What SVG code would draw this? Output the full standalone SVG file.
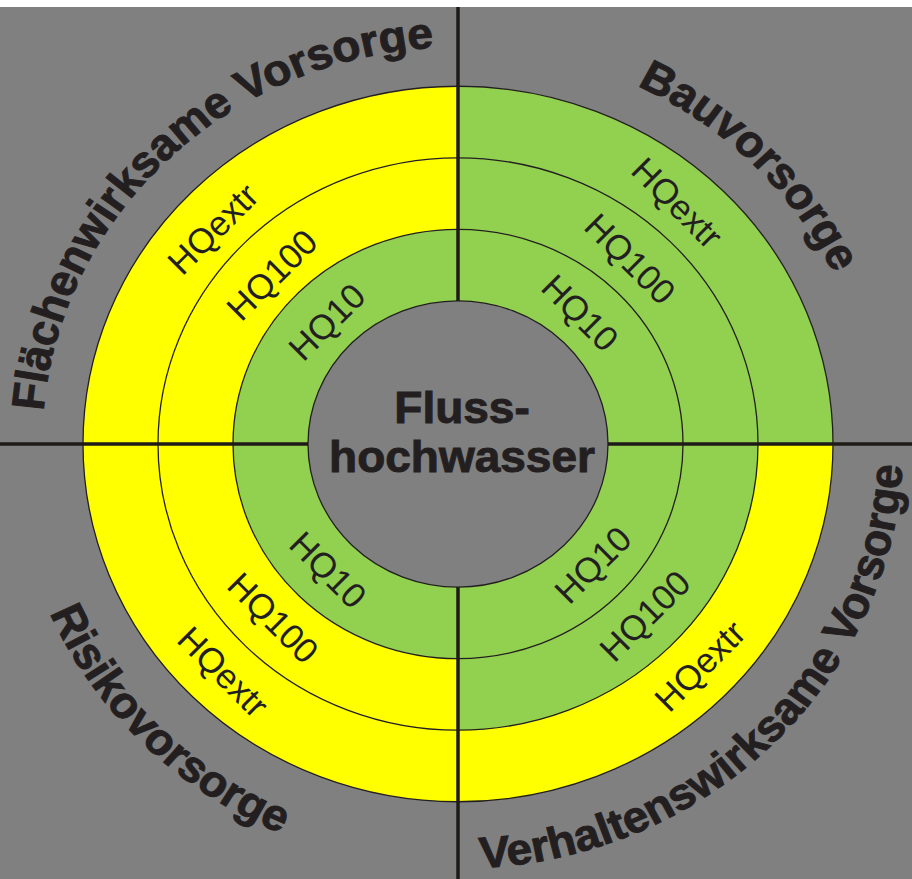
<svg xmlns="http://www.w3.org/2000/svg" width="912" height="879" viewBox="0 0 912 879">
  <style>
    .ring { fill: none; stroke: #231f20; stroke-width: 1.3; }
    .axis { stroke: #1e1a17; stroke-width: 3.5; fill: none; }
    .lbl { font-family: "Liberation Sans", Arial, sans-serif; font-weight: bold; font-size: 46px; fill: #231f20; stroke: #231f20; stroke-width: 1; }
    .hq { font-family: "Liberation Sans", Arial, sans-serif; font-size: 35px; fill: #231f20; text-anchor: middle; }
    .ctr { font-family: "Liberation Sans", Arial, sans-serif; font-weight: bold; font-size: 46px; fill: #231f20; stroke: #231f20; stroke-width: 1; text-anchor: middle; }
  </style>
  <defs>
    <path id="arcTL" d="M -416 0 A 416 416 0 0 1 0 -416"/>
    <path id="arcTR" d="M 0 -416 A 416 416 0 0 1 416 0"/>
    <path id="arcBL" d="M -445 0 A 445 445 0 0 0 0 445"/>
    <path id="arcBR" d="M 0 445 A 445 445 0 0 0 445 0"/>
  </defs>
  <rect x="0" y="0" width="912" height="879" fill="#ffffff"/>
  <rect x="0" y="7" width="912" height="872" fill="#808080"/>

  <g transform="translate(458 444) scale(1 0.954)">
    <g id="rings">
      <circle r="375" fill="#ffff00"/>
      <path d="M0 0 L0 -375 A375 375 0 0 1 375 0 Z" fill="#92d050"/>
      <path d="M0 0 L300 0 A300 300 0 0 1 0 300 Z" fill="#92d050"/>
      <circle r="225" fill="#92d050"/>
      <circle r="150" fill="#808080"/>
      <circle class="ring" r="375" vector-effect="non-scaling-stroke"/>
      <circle class="ring" r="300" vector-effect="non-scaling-stroke"/>
      <circle class="ring" r="225" vector-effect="non-scaling-stroke"/>
      <circle class="ring" r="150" vector-effect="non-scaling-stroke"/>
    </g>
    <g id="center">
      <text class="ctr" x="4" y="-22">Fluss-</text>
      <text class="ctr" x="4" y="29">hochwasser</text>
    </g>
    <g id="label-flaechenwirksame">
      <text class="lbl"><textPath href="#arcTL" startOffset="50.8%" text-anchor="middle">Flächenwirksame Vorsorge</textPath></text>
    </g>
    <g id="label-bauvorsorge">
      <text class="lbl"><textPath href="#arcTR" startOffset="50%" text-anchor="middle">Bauvorsorge</textPath></text>
    </g>
    <g id="label-risikovorsorge">
      <text class="lbl"><textPath href="#arcBL" startOffset="50%" text-anchor="middle">Risikovorsorge</textPath></text>
    </g>
    <g id="label-verhaltenswirksame">
      <text class="lbl"><textPath href="#arcBR" startOffset="50%" text-anchor="middle">Verhaltenswirksame Vorsorge</textPath></text>
    </g>
  </g>

  <g id="connectors">
    <line class="axis" x1="458" y1="7" x2="458" y2="301"/>
    <line class="axis" x1="458" y1="587" x2="458" y2="879"/>
    <line class="axis" x1="0" y1="444" x2="308" y2="444"/>
    <line class="axis" x1="608" y1="444" x2="912" y2="444"/>
  </g>

  <g id="hq-top-left">
    <text class="hq" transform="translate(213 229) rotate(-45)" y="12">HQextr</text>
    <text class="hq" transform="translate(272 275) rotate(-45)" y="12">HQ100</text>
    <text class="hq" transform="translate(327 322) rotate(-45)" y="12">HQ10</text>
  </g>
  <g id="hq-top-right">
    <text class="hq" transform="translate(677 203) rotate(45)" y="12">HQextr</text>
    <text class="hq" transform="translate(630 259) rotate(45)" y="12">HQ100</text>
    <text class="hq" transform="translate(580 313) rotate(45)" y="12">HQ10</text>
  </g>
  <g id="hq-bottom-left">
    <text class="hq" transform="translate(328 570) rotate(45)" y="12">HQ10</text>
    <text class="hq" transform="translate(273 618) rotate(45)" y="12">HQ100</text>
    <text class="hq" transform="translate(223 672) rotate(45)" y="12">HQextr</text>
  </g>
  <g id="hq-bottom-right">
    <text class="hq" transform="translate(593 565) rotate(-45)" y="12">HQ10</text>
    <text class="hq" transform="translate(645 616) rotate(-45)" y="12">HQ100</text>
    <text class="hq" transform="translate(700 666) rotate(-45)" y="12">HQextr</text>
  </g>
</svg>
